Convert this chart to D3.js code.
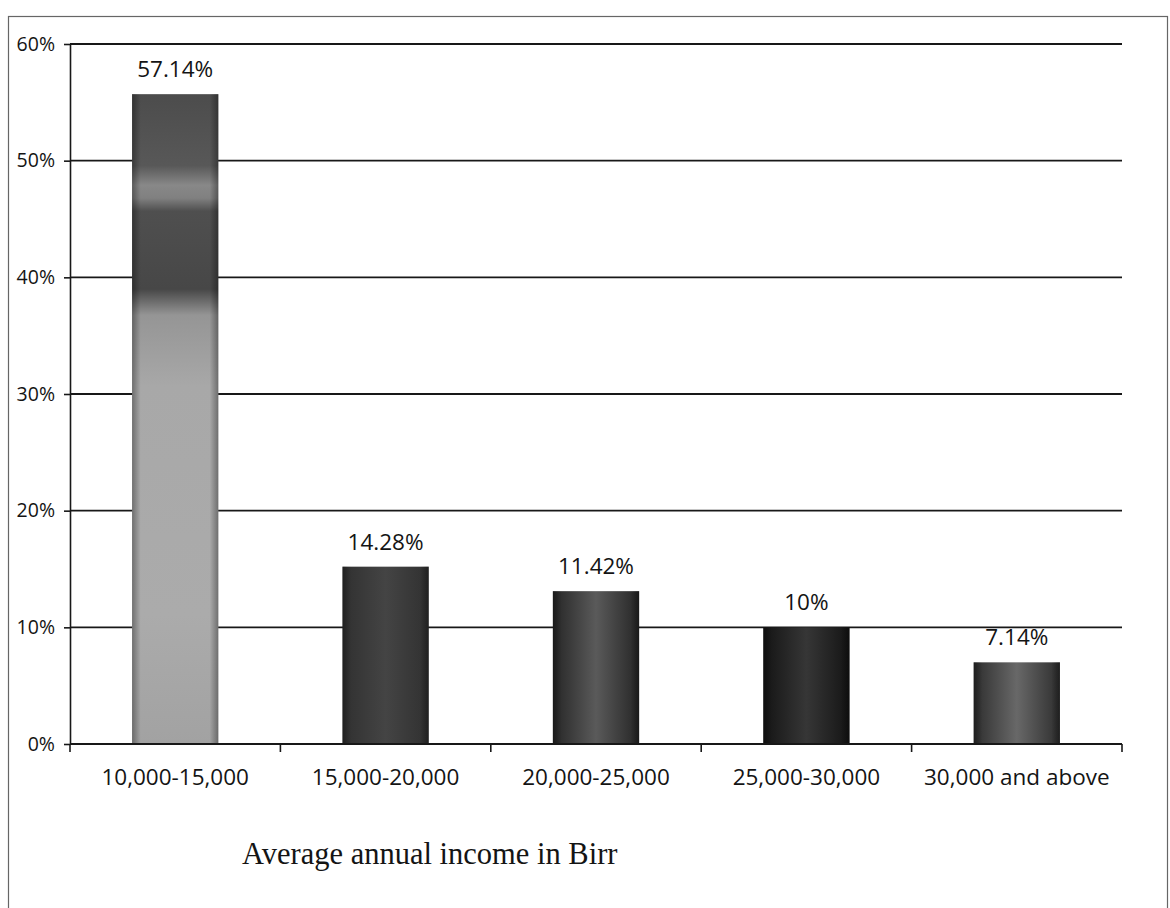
<!DOCTYPE html>
<html>
<head>
<meta charset="utf-8">
<script src="https://cdn.jsdelivr.net/npm/d3@7"></script>
<style>
  body { margin: 0; background: #fff; }
  svg { display: block; }
  text { fill: #141414; }
</style>
</head>
<body>
<div id="chart"></div>
<script>
const categories = ["10,000-15,000", "15,000-20,000", "20,000-25,000", "25,000-30,000", "30,000 and above"];
const values = [55.7, 15.2, 13.1, 10.0, 7.0]; // bar heights as drawn in the picture
const valueLabels = ["57.14%", "14.28%", "11.42%", "10%", "7.14%"]; // labels as printed
const yTicks = [0, 10, 20, 30, 40, 50, 60];
const axisTitle = "Average annual income in Birr";

const width = 1170, height = 908;
const margin = { left: 70, right: 48, top: 44, bottom: 164 };

let svg = d3.select("#chart")
            .append("svg")
            .attr("width", width)
            .attr("height", height);

// outer frame of the chart box
svg.append("rect")
   .attr("x", 8.5).attr("y", 16.5)
   .attr("width", 1159).attr("height", 905)
   .attr("fill", "none")
   .attr("stroke", "#666")
   .attr("stroke-width", 1.2);

let x = d3.scaleBand()
          .domain(categories)
          .range([margin.left, width - margin.right])
          .paddingInner(0.59)
          .paddingOuter(0.295);
let y = d3.scaleLinear()
          .domain([0, 60])
          .range([height - margin.bottom, margin.top]);

// bar fills, the scan shows shaded bars
let defs = svg.append("defs");
let g1 = defs.append("linearGradient").attr("id", "bar0").attr("x1", 0).attr("y1", 0).attr("x2", 0).attr("y2", 1);
[[0, "#4c4c4c"], [0.11, "#585858"], [0.14, "#888888"], [0.16, "#808080"], [0.18, "#4f4f4f"],
 [0.3, "#474747"], [0.34, "#959595"], [0.45, "#a8a8a8"], [0.8, "#ababab"], [1, "#a2a2a2"]]
  .forEach(s => g1.append("stop").attr("offset", s[0]).attr("stop-color", s[1]));
const sideShades = [["#303030", "#444444"], ["#262626", "#5a5a5a"], ["#141414", "#363636"], ["#2e2e2e", "#686868"]];
sideShades.forEach((c, i) => {
  let g = defs.append("linearGradient").attr("id", "bar" + (i + 1)).attr("x1", 0).attr("x2", 1).attr("y1", 0).attr("y2", 0);
  g.append("stop").attr("offset", 0).attr("stop-color", c[0]);
  g.append("stop").attr("offset", 0.5).attr("stop-color", c[1]);
  g.append("stop").attr("offset", 1).attr("stop-color", c[0]);
});
let edge = defs.append("linearGradient").attr("id", "edge").attr("x1", 0).attr("x2", 1);
[[0, 0.35], [0.1, 0], [0.9, 0], [1, 0.35]].forEach(s =>
  edge.append("stop").attr("offset", s[0]).attr("stop-color", "#000").attr("stop-opacity", s[1]));

// horizontal grid lines
svg.selectAll("line.grid")
   .data(yTicks.slice(1))
   .enter()
   .append("line")
   .attr("class", "grid")
   .attr("x1", margin.left).attr("x2", width - margin.right)
   .attr("y1", d => y(d)).attr("y2", d => y(d))
   .attr("stroke", "#181818")
   .attr("stroke-width", 1.8);

// bars
svg.selectAll("rect.bar")
   .data(values)
   .enter()
   .append("rect")
   .attr("class", "bar")
   .attr("x", (d, i) => x(categories[i]))
   .attr("y", d => y(d))
   .attr("width", x.bandwidth())
   .attr("height", d => y(0) - y(d))
   .attr("fill", (d, i) => `url(#bar${i})`);
svg.selectAll("rect.edge")
   .data(values)
   .enter()
   .append("rect")
   .attr("class", "edge")
   .attr("x", (d, i) => x(categories[i]))
   .attr("y", d => y(d))
   .attr("width", x.bandwidth())
   .attr("height", d => y(0) - y(d))
   .attr("fill", "url(#edge)");

// value labels above bars
svg.selectAll("text.value")
   .data(values)
   .enter()
   .append("text")
   .attr("class", "value")
   .attr("x", (d, i) => x(categories[i]) + x.bandwidth() / 2)
   .attr("y", d => y(d) - 17)
   .attr("text-anchor", "middle")
   .style("font-family", "'Open Sans', sans-serif")
   .style("font-size", "22.5px")
   .text((d, i) => valueLabels[i]);

// y axis
let yAxis = d3.axisLeft(y)
              .tickValues(yTicks)
              .tickFormat(d => d + "%")
              .tickSizeInner(6)
              .tickSizeOuter(0)
              .tickPadding(9);
let ya = svg.append("g")
            .attr("transform", `translate(${margin.left},0)`)
            .call(yAxis);
ya.select(".domain").attr("stroke", "#181818").attr("stroke-width", 1.6);
ya.selectAll(".tick line").attr("stroke", "#181818").attr("stroke-width", 1.6);
ya.selectAll(".tick text")
  .style("font-family", "'Open Sans', sans-serif")
  .style("font-size", "19.5px")
  .attr("fill", "#141414");

// x axis line with ticks between categories
let bounds = d3.range(categories.length + 1).map(i => margin.left + i * x.step());
svg.append("line")
   .attr("x1", margin.left).attr("x2", width - margin.right)
   .attr("y1", y(0)).attr("y2", y(0))
   .attr("stroke", "#181818").attr("stroke-width", 1.8);
svg.selectAll("line.xtick")
   .data(bounds)
   .enter()
   .append("line")
   .attr("class", "xtick")
   .attr("x1", d => d).attr("x2", d => d)
   .attr("y1", y(0)).attr("y2", y(0) + 8)
   .attr("stroke", "#181818").attr("stroke-width", 1.6);

// category labels
svg.selectAll("text.cat")
   .data(categories)
   .enter()
   .append("text")
   .attr("class", "cat")
   .attr("x", d => x(d) + x.bandwidth() / 2)
   .attr("y", y(0) + 41)
   .attr("text-anchor", "middle")
   .style("font-family", "'Open Sans', sans-serif")
   .style("font-size", "22.5px")
   .text(d => d);

// axis title
svg.append("text")
   .attr("x", 242)
   .attr("y", 864)
   .style("font-family", "'Liberation Serif', 'Times New Roman', serif")
   .style("font-size", "30.5px")
   .text(axisTitle);
</script>
</body>
</html>
